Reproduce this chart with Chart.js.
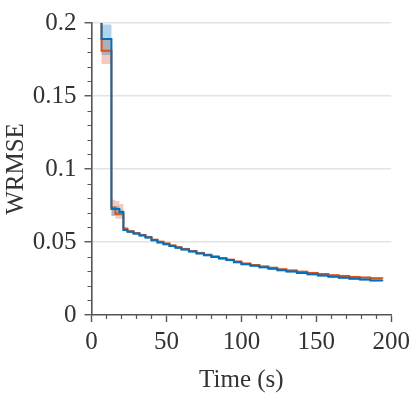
<!DOCTYPE html>
<html>
<head>
<meta charset="utf-8">
<script src="https://cdn.jsdelivr.net/npm/chart.js@4/dist/chart.umd.min.js"></script>
<style>
  html, body { margin: 0; padding: 0; background: #fff; }
  #wrap { width: 415px; height: 398px; position: relative; }
</style>
</head>
<body>
<div id="wrap"><canvas id="chart"></canvas></div>
<script>
// time stamps (s) shared by every series
var times = [5, 6.7, 13.3, 16, 18.6, 21.3, 24, 28, 32, 36, 40, 44, 48, 52, 56, 60, 65, 70, 75, 80,
             85, 90, 95, 100, 106, 112, 118, 124, 130, 137, 144, 151, 158, 165, 172, 179, 186, 194];

// blue run (WRMSE) and its band
var blueMean = [0.30, 0.189, 0.0726, 0.0726, 0.0706, 0.0583, 0.0570, 0.0558, 0.0545, 0.0531, 0.0512, 0.0497, 0.0485, 0.0472, 0.0460, 0.0448, 0.0435, 0.0422, 0.0410, 0.0398,
                0.0387, 0.0376, 0.0362, 0.0348, 0.0337, 0.0327, 0.0317, 0.0307, 0.0298, 0.0288, 0.0279, 0.0270, 0.0262, 0.0255, 0.0249, 0.0243, 0.0237, 0.0231];
var blueUpper = [0.32, 0.199, 0.0745, 0.0745, 0.0722, 0.0592, 0.0578, 0.0566, 0.0553, 0.0539, 0.0520, 0.0505, 0.0493, 0.0480, 0.0468, 0.0456, 0.0443, 0.0430, 0.0418, 0.0406,
                 0.0395, 0.0384, 0.0370, 0.0356, 0.0345, 0.0335, 0.0325, 0.0315, 0.0306, 0.0296, 0.0287, 0.0278, 0.0270, 0.0263, 0.0257, 0.0251, 0.0245, 0.0239];
var blueLower = [0.28, 0.178, 0.0680, 0.0680, 0.0680, 0.0574, 0.0562, 0.0550, 0.0537, 0.0523, 0.0504, 0.0489, 0.0477, 0.0464, 0.0452, 0.0440, 0.0427, 0.0414, 0.0402, 0.0390,
                 0.0379, 0.0368, 0.0354, 0.0340, 0.0329, 0.0319, 0.0309, 0.0299, 0.0290, 0.0280, 0.0271, 0.0262, 0.0254, 0.0247, 0.0241, 0.0235, 0.0229, 0.0223];

// orange run (WRMSE) and its band
var orangeMean = [0.30, 0.181, 0.0737, 0.0693, 0.0693, 0.0590, 0.0573, 0.0560, 0.0548, 0.0535, 0.0516, 0.0502, 0.0490, 0.0476, 0.0464, 0.0452, 0.0438, 0.0425, 0.0412, 0.0401,
                  0.0390, 0.0379, 0.0366, 0.0352, 0.0342, 0.0332, 0.0323, 0.0314, 0.0305, 0.0297, 0.0288, 0.0280, 0.0273, 0.0267, 0.0261, 0.0256, 0.0252, 0.0248];
var orangeUpper = [0.32, 0.189, 0.0790, 0.0780, 0.0760, 0.0605, 0.0582, 0.0568, 0.0556, 0.0543, 0.0524, 0.0510, 0.0498, 0.0484, 0.0472, 0.0460, 0.0446, 0.0433, 0.0420, 0.0409,
                   0.0398, 0.0387, 0.0374, 0.0360, 0.0350, 0.0340, 0.0331, 0.0322, 0.0313, 0.0305, 0.0296, 0.0288, 0.0281, 0.0275, 0.0269, 0.0264, 0.0260, 0.0256];
var orangeLower = [0.28, 0.172, 0.0680, 0.0660, 0.0660, 0.0578, 0.0564, 0.0552, 0.0540, 0.0527, 0.0508, 0.0494, 0.0482, 0.0468, 0.0456, 0.0444, 0.0430, 0.0417, 0.0404, 0.0393,
                   0.0382, 0.0371, 0.0358, 0.0344, 0.0334, 0.0324, 0.0315, 0.0306, 0.0297, 0.0289, 0.0280, 0.0272, 0.0265, 0.0259, 0.0253, 0.0248, 0.0244, 0.0240];

var xTicks = [0, 50, 100, 150, 200];
var yTicks = [0, 0.05, 0.1, 0.15, 0.2];
var yTickLabels = ['0', '0.05', '0.1', '0.15', '0.2'];

var BLUE = '#0072BD';
var ORANGE = '#D95319';
var AXIS = '#555555';
var FONT = "'Liberation Serif', 'Times New Roman', serif";

function pts(vals) {
    return times.map(function (t, i) { return { x: t, y: vals[i] }; });
}

// 'before': hold the previous value until the next time stamp, then drop
function line(vals, color, order) {
    return {
        data: pts(vals), borderColor: color, borderWidth: 2, stepped: 'before',
        pointRadius: 0, fill: false, order: order
    };
}

function band(upper, lower, fillColor, order) {
    return [
        { data: pts(upper), borderWidth: 0, borderColor: 'rgba(0,0,0,0)', stepped: 'before', pointRadius: 0, fill: false, order: order },
        { data: pts(lower), borderWidth: 0, borderColor: 'rgba(0,0,0,0)', stepped: 'before', pointRadius: 0, fill: '-1', backgroundColor: fillColor, order: order }
    ];
}

// minor tick marks, placed with the chart's own scales
var minorTicks = {
    id: 'minorTicks',
    afterDraw: function (chart) {
        var ctx = chart.ctx, xs = chart.scales.x, ys = chart.scales.y;
        var area = chart.chartArea;
        ctx.save();
        ctx.strokeStyle = AXIS;
        ctx.lineWidth = 1.2;
        ctx.beginPath();
        for (var v = 10; v < 200; v += 10) {
            if (v % 50 === 0) continue;
            var px = Math.round(xs.getPixelForValue(v)) + 0.5;
            ctx.moveTo(px, area.bottom);
            ctx.lineTo(px, area.bottom + 4);
        }
        for (var k = 1; k < 20; k++) {
            if (k % 5 === 0) continue;
            var py = Math.round(ys.getPixelForValue(k / 100)) + 0.5;
            ctx.moveTo(area.left, py);
            ctx.lineTo(area.left - 4, py);
        }
        ctx.stroke();
        ctx.restore();
    }
};

var datasets = [line(blueMean, BLUE, 0), line(orangeMean, ORANGE, 1)]
    .concat(band(blueUpper, blueLower, 'rgba(0,114,189,0.3)', 2))
    .concat(band(orangeUpper, orangeLower, 'rgba(217,83,25,0.3)', 3));

Chart.defaults.font.family = FONT;
Chart.defaults.color = '#333333';

new Chart(document.getElementById('chart'), {
    type: 'line',
    data: { datasets: datasets },
    options: {
        responsive: true,
        maintainAspectRatio: false,
        animation: false,
        layout: { padding: { top: 12, right: 19, left: 0, bottom: 0 } },
        plugins: { legend: { display: false }, tooltip: { enabled: false } },
        scales: {
            x: {
                type: 'linear', min: 0, max: 200,
                afterFit: function (s) { s.height = 83; },
                afterBuildTicks: function (s) { s.ticks = xTicks.map(function (v) { return { value: v }; }); },
                border: { color: AXIS, width: 1.6 },
                grid: { drawOnChartArea: false, tickLength: 7, tickColor: AXIS, tickWidth: 1.4 },
                ticks: { font: { size: 25 }, padding: 5, maxRotation: 0, color: '#333' },
                title: { display: true, text: 'Time (s)', font: { size: 25 }, padding: { top: 0, bottom: 3 }, color: '#333' }
            },
            y: {
                type: 'linear', min: 0, max: 0.2,
                afterFit: function (s) { s.width = 91.5; },
                afterBuildTicks: function (s) { s.ticks = yTicks.map(function (v) { return { value: v }; }); },
                border: { color: AXIS, width: 1.6 },
                grid: {
                    tickLength: 7, tickColor: AXIS, tickWidth: 1.4, lineWidth: 1.5,
                    color: function (c) { return c.tick && c.tick.value === 0 ? 'rgba(0,0,0,0)' : '#e3e3e3'; }
                },
                ticks: {
                    font: { size: 25 }, padding: 8, color: '#333',
                    callback: function (v) { return yTickLabels[yTicks.indexOf(v)]; }
                },
                title: { display: true, text: 'WRMSE', font: { size: 25 }, padding: { top: 1, bottom: 0 }, color: '#333' }
            }
        }
    },
    plugins: [minorTicks]
});
</script>
</body>
</html>
